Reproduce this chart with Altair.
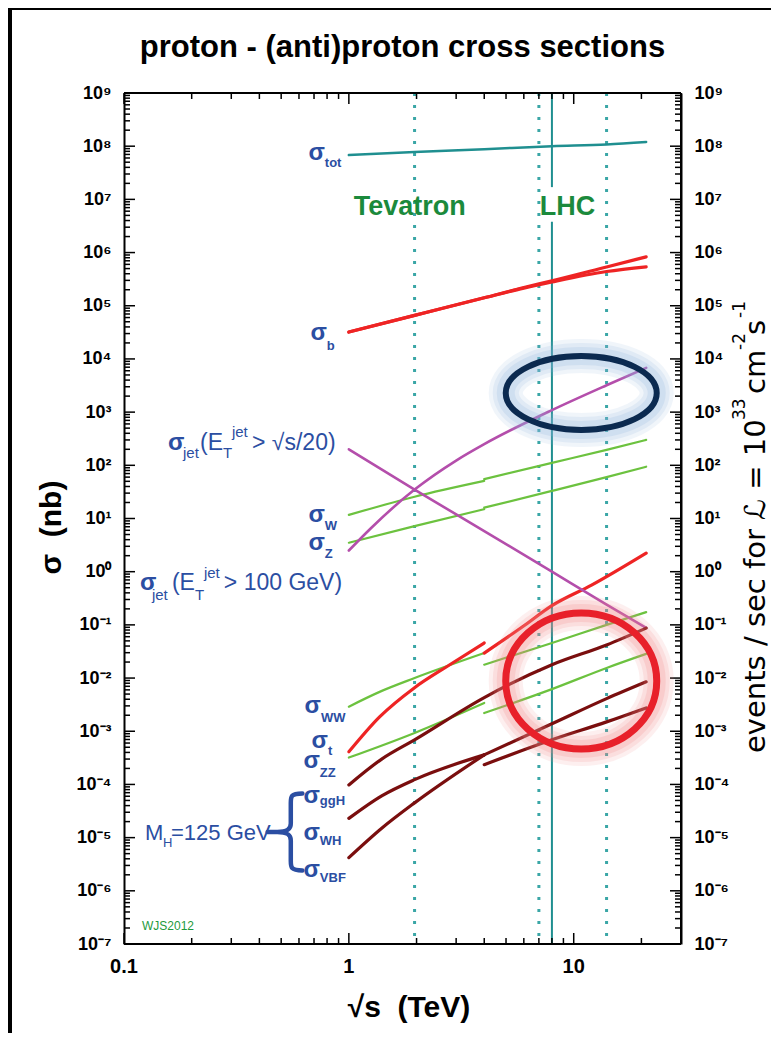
import altair as alt
import pandas as pd

W, H = 557, 851

# ---------------- data ----------------
tot_x = [1, 1.96, 4, 8, 14, 21]
tot_y = [6.8e7, 7.8e7, 8.8e7, 1.0e8, 1.08e8, 1.2e8]

b_x = [1, 1.96, 4, 6, 8, 14, 21]
b_upper_y = [3.2e4, 6.6e4, 1.41e5, 2.2e5, 2.94e5, 5.36e5, 8.3e5]
b_lower_y = [3.2e4, 6.6e4, 1.41e5, 2.15e5, 2.8e5, 4.4e5, 5.4e5]

jet20_x = [1, 1.96, 4, 8, 14, 21]
jet20_y = [200, 35, 5.8, 1.0, 0.24, 0.088]
jet100_x = [1, 1.25, 1.96, 3, 4, 8, 14, 21]
jet100_y = [2.5, 6.5, 35, 123, 250, 1090, 3200, 6800]

ppbar_x = [1, 1.96, 4]
pp_x = [4, 8, 14, 21]
W_ppbar_y = [11.7, 25.7, 51]
W_pp_y = [55, 111, 195, 300]
Z_ppbar_y = [3.5, 7.2, 15]
Z_pp_y = [16, 33, 60, 94]
WW_ppbar_x = [1, 1.37, 1.96, 4]
WW_ppbar_y = [2.9e-3, 5.5e-3, 0.010, 0.0295]
WW_pp_y = [0.0178, 0.0457, 0.10, 0.174]
ZZ_ppbar_y = [3.2e-4, 9.3e-4, 3.4e-3]
ZZ_pp_y = [2.2e-3, 6.2e-3, 0.0155, 0.0285]

t_ppbar_x = [1, 1.37, 1.96, 2.81, 4]
t_ppbar_y = [4.1e-4, 1.86e-3, 6.6e-3, 0.0178, 0.0457]
t_pp_x = [4, 5.9, 8, 12, 21]
t_pp_y = [0.0295, 0.091, 0.23, 0.56, 2.24]

ggH_x = [1, 1.4, 1.96, 4, 8, 14, 21]
ggH_y = [9.8e-5, 3.0e-4, 6.9e-4, 4.3e-3, 0.0178, 0.042, 0.087]
h_ppbar_x = [1, 1.4, 1.96, 4]
WH_ppbar_y = [2.3e-5, 6.1e-5, 1.23e-4, 3.6e-4]
WH_pp_y = [2.35e-4, 6.9e-4, 1.5e-3, 2.75e-3]
VBF_ppbar_y = [4.2e-6, 1.5e-5, 4.5e-5, 3.6e-4]
VBF_pp_y = [3.6e-4, 1.38e-3, 4.1e-3, 8.5e-3]

collider_dotted_x = [1.96, 7, 14]
lhc_x = [8, 8]
lhc_top = [1e9, 3.8e6]
lhc_bottom = [1.7e7, 1e-7]

# axis ticks and tick labels
x_major_ticks = [0.1, 1, 10]
x_tick_labels = ["0.1", "1", "10"]
x_minor_ticks = [0.2, 0.3, 0.4, 0.5, 0.6, 0.7, 0.8, 0.9, 2, 3, 4, 5, 6, 7, 8, 9, 20]
y_major_ticks = [10.0 ** e for e in range(-7, 10)]
y_minor_ticks = [k * 10.0 ** e for e in range(-7, 9) for k in range(2, 10)]

# labels: (text, x in TeV, y in nb)
sigma_names = ["tot", "b", "W", "Z", "WW", "t", "ZZ", "ggH", "WH", "VBF"]
sigma_x = [0.782, 0.798, 0.782, 0.782, 0.751, 0.807, 0.743, 0.743, 0.743, 0.743]
sigma_y = [5.5e7, 2.27e4, 8.61, 2.56, 2.21e-3, 4.85e-4, 2.04e-4, 4.48e-5, 9.04e-6, 1.82e-6]
sub_y = [4.06e7, 1.47e4, 6.08, 1.81, 1.49e-3, 3.58e-4, 1.38e-4, 4.11e-5, 7.28e-6, 1.47e-6]

jet_sigma = [("σ", 0.1569, 194), ("σ", 0.1178, 0.453)]
jet_big = [("(E", 0.2177, 194), ("> √s/20)", 0.371, 194),
           ("(E", 0.1634, 0.453), ("> 100 GeV)", 0.278, 0.453)]
jet_small = [("jet", 0.1829, 137), ("T", 0.2754, 137), ("jet", 0.302, 341),
             ("jet", 0.1331, 0.294), ("T", 0.2067, 0.294), ("jet", 0.2267, 0.762)]
mh_big = [("M", 0.124, 9.04e-6), ("=125 GeV", 0.1618, 9.04e-6)]
mh_small = [("H", 0.149, 6.67e-6)]
brace_pos = (0.541, 1.28e-5)
collider_names = [("Tevatron", 1.052, 5.08e6), ("LHC", 7.06, 5.08e6)]
credit = ("WJS2012", 0.1202, 1.84e-7)
ellipse_blue = (10.8, 2290)
ellipse_red = (10.8, 8.8e-3)

NBSP = "\u00a0"
TITLE = "proton - (anti)proton cross sections"
X_TITLE = "√s" + NBSP * 2 + "(TeV)"
Y_TITLE = "σ" + NBSP * 2 + "(nb)"

# ---------------- styling ----------------
FONT = "Liberation Sans"
BLUE = "#2b4ea2"
GREEN_TXT = "#1b8a3c"
TEAL = "#1f8f90"
DOT = "#3aa6a6"
RED = "#ee2424"
PURPLE = "#b44eab"
LGREEN = "#6cc23f"
DRED = "#7a0e0e"

xs = alt.Scale(type="log", domain=[0.1, 30], nice=False)
ys = alt.Scale(type="log", domain=[1e-7, 1e9], nice=False)

sups = ["⁻⁷", "⁻⁶", "⁻⁵", "⁻⁴", "⁻³", "⁻²", "⁻¹", "⁰", "¹", "²", "³", "⁴", "⁵", "⁶", "⁷", "⁸", "⁹"]
label_expr = "'10' + [" + ",".join("'%s'" % s for s in sups) + "][round(log(datum.value)/LN10)+7]"


def X(field="x", axis=None):
    return alt.X(field, type="quantitative", scale=xs, axis=axis)


def Y(field="y", axis=None):
    return alt.Y(field, type="quantitative", scale=ys, axis=axis)


def seg(name, xv, yv):
    return pd.DataFrame({"series": name, "x": xv, "y": yv})


def y_axis(orient, title):
    kw = dict(orient=orient, values=y_major_ticks, labelExpr=label_expr, labelFont=FONT,
              labelFontWeight="bold", labelFontSize=18, labelColor="black", labelPadding=13,
              labelFlush=False, labelOverlap=False, ticks=False, domain=True,
              domainColor="black", domainWidth=2, grid=False, zindex=1)
    if title:
        kw.update(title=title, titleFont=FONT, titleFontSize=30, titleFontWeight="bold",
                  titleColor="black", titleX=-64, titleY=434, titleBaseline="alphabetic",
                  titleAngle=270, titleAlign="center")
    else:
        kw.update(title=None)
    return alt.Axis(**kw)


one = pd.DataFrame({"a": [0]})
layers = []

# black border strips of the original screenshot (top and left)
layers.append(alt.Chart(one).mark_rect(color="black").encode(
    x=alt.value(-116), x2=alt.value(-112), y=alt.value(-85), y2=alt.value(H + 89)))
layers.append(alt.Chart(one).mark_rect(color="black").encode(
    x=alt.value(-116), x2=alt.value(W + 90), y=alt.value(-85), y2=alt.value(-83)))

# collider energy lines
layers.append(alt.Chart(pd.DataFrame({"x": collider_dotted_x})).mark_rule(
    color=DOT, strokeWidth=3, strokeDash=[3, 9]).encode(x=X()))
layers.append(alt.Chart(pd.DataFrame({"x": lhc_x, "y": lhc_top, "y2": lhc_bottom})).mark_rule(
    color=TEAL, strokeWidth=2).encode(x=X(), y=Y(), y2="y2:Q"))


def line_layer(df, color, width, ya=None):
    return alt.Chart(df).mark_line(color=color, strokeWidth=width, interpolate="monotone",
                                   strokeCap="round").encode(
        x=X(), y=Y(axis=ya), detail="series:N")


tot_df = seg("tot", tot_x, tot_y)
red_df = pd.concat([seg("b1", b_x, b_upper_y), seg("b2", b_x, b_lower_y),
                    seg("t1", t_ppbar_x, t_ppbar_y), seg("t2", t_pp_x, t_pp_y)])
jet_df = pd.concat([seg("j20", jet20_x, jet20_y), seg("j100", jet100_x, jet100_y)])
green_df = pd.concat([seg("W1", ppbar_x, W_ppbar_y), seg("W2", pp_x, W_pp_y),
                      seg("Z1", ppbar_x, Z_ppbar_y), seg("Z2", pp_x, Z_pp_y),
                      seg("WW1", WW_ppbar_x, WW_ppbar_y), seg("WW2", pp_x, WW_pp_y),
                      seg("ZZ1", ppbar_x, ZZ_ppbar_y), seg("ZZ2", pp_x, ZZ_pp_y)])
higgs_df = pd.concat([seg("ggH", ggH_x, ggH_y),
                      seg("WH1", h_ppbar_x, WH_ppbar_y), seg("WH2", pp_x, WH_pp_y),
                      seg("VBF1", h_ppbar_x, VBF_ppbar_y), seg("VBF2", pp_x, VBF_pp_y)])

layers.append(line_layer(tot_df, TEAL, 2.5, ya=y_axis("left", Y_TITLE)))
layers.append(line_layer(green_df, LGREEN, 2.2, ya=y_axis("right", None)))
layers.append(line_layer(red_df, RED, 3.2))
layers.append(line_layer(jet_df, PURPLE, 2.6))
layers.append(line_layer(higgs_df, DRED, 3.2))

# inward ticks on all four sides
xmaj = pd.DataFrame({"x": x_major_ticks, "txt": x_tick_labels})
xmin = pd.DataFrame({"x": x_minor_ticks})
ymaj = pd.DataFrame({"y": y_major_ticks})
ymin = pd.DataFrame({"y": y_minor_ticks})
for df, ln in ((xmaj, 11), (xmin, 6)):
    layers.append(alt.Chart(df).mark_rule(color="black", strokeWidth=1.5).encode(
        x=X(), y=alt.value(H), y2=alt.value(H - ln)))
    layers.append(alt.Chart(df).mark_rule(color="black", strokeWidth=1.5).encode(
        x=X(), y=alt.value(0), y2=alt.value(ln)))
for df, ln in ((ymaj, 11), (ymin, 6)):
    layers.append(alt.Chart(df).mark_rule(color="black", strokeWidth=1.5).encode(
        y=Y(), x=alt.value(0), x2=alt.value(ln)))
    layers.append(alt.Chart(df).mark_rule(color="black", strokeWidth=1.5).encode(
        y=Y(), x=alt.value(W), x2=alt.value(W - ln)))
# frame
layers.append(alt.Chart(one).mark_rule(color="black", strokeWidth=2).encode(
    x=alt.value(0), x2=alt.value(W), y=alt.value(0)))
layers.append(alt.Chart(one).mark_rule(color="black", strokeWidth=2).encode(
    x=alt.value(W), y=alt.value(0), y2=alt.value(H)))
layers.append(alt.Chart(one).mark_rule(color="black", strokeWidth=2).encode(
    x=alt.value(0), x2=alt.value(W), y=alt.value(H)))

# x tick labels, x title, chart title
layers.append(alt.Chart(xmaj).mark_text(align="center", baseline="alphabetic", font=FONT,
                                        fontSize=20, fontWeight="bold", color="black").encode(
    x=X(), y=alt.value(H + 29), text="txt:N"))
layers.append(alt.Chart(one).mark_text(text=X_TITLE, align="center", baseline="alphabetic",
                                       font=FONT, fontSize=30, fontWeight="bold",
                                       color="black").encode(
    x=alt.value(285), y=alt.value(H + 73)))
layers.append(alt.Chart(one).mark_text(text=TITLE, align="center", baseline="alphabetic",
                                       font=FONT, fontSize=31, fontWeight="bold",
                                       color="black").encode(
    x=alt.value(W / 2), y=alt.value(-36)))


def text_layer(rows, size, weight="normal", align="left", color=BLUE, font=FONT):
    df = pd.DataFrame(rows, columns=["txt", "x", "y"])
    return alt.Chart(df).mark_text(align=align, baseline="alphabetic", font=font, fontSize=size,
                                   fontWeight=weight, color=color).encode(
        x=X(), y=Y(), text="txt:N")


sig_rows = [("σ", x, y) for x, y in zip(sigma_x, sigma_y)]
sub_rows = [(n, x, y) for n, x, y in zip(sigma_names, sigma_x, sub_y)]
layers.append(text_layer(sig_rows, 24, "bold", "right"))
layers.append(text_layer(sub_rows, 13, "bold", "left"))
layers.append(text_layer(jet_sigma, 24, "bold"))
layers.append(text_layer(jet_big, 23))
layers.append(text_layer(jet_small, 15))
layers.append(text_layer(mh_big, 22))
layers.append(text_layer(mh_small, 13))
layers.append(text_layer(collider_names, 27, "bold", color=GREEN_TXT))
layers.append(text_layer([credit], 12, color="#1e9a3c"))

# brace
brace_path = ("M 0.35 -1 C 0.05 -1 0.05 -0.92 0.05 -0.75 L 0.05 -0.22 C 0.05 -0.06 -0.05 0 -0.3 0 "
              "C -0.05 0 0.05 0.06 0.05 0.22 L 0.05 0.75 C 0.05 0.92 0.05 1 0.35 1 M -0.3 0 L -0.55 0")
layers.append(alt.Chart(pd.DataFrame({"x": [brace_pos[0]], "y": [brace_pos[1]]})).mark_point(
    shape=brace_path, size=5929, filled=False, color=BLUE, strokeWidth=4.5, opacity=1,
    strokeCap="round").encode(x=X(), y=Y()))


def ellipse_path(b):
    k = 0.5523
    return ("M -1 0 C -1 %.4f %.4f %.4f 0 %.4f C %.4f %.4f 1 %.4f 1 0 "
            "C 1 %.4f %.4f %.4f 0 %.4f C %.4f %.4f -1 %.4f -1 0 Z" % (
                -k * b, -k, -b, -b, k, -b, -k * b, k * b, k, b, b, -k, b, k * b))


for (cx, cy), b, main, glow, sw in ((ellipse_blue, 0.49, "#0b2a50", "#8fb4de", 6),
                                    (ellipse_red, 0.90, "#e8202a", "#f28a8a", 7)):
    dfp = pd.DataFrame({"x": [cx], "y": [cy]})
    for gw, go in ((34, 0.13), (26, 0.16), (18, 0.2)):
        layers.append(alt.Chart(dfp).mark_point(
            shape=ellipse_path(b), size=22801, filled=False, color=glow, strokeWidth=gw,
            opacity=go).encode(x=X(), y=Y()))
    layers.append(alt.Chart(dfp).mark_point(
        shape=ellipse_path(b), size=22801, filled=False, color=main, strokeWidth=sw,
        opacity=1).encode(x=X(), y=Y()))

# right-hand axis title (rotated, with superscripts)
rt = [("events / sec for ℒ = 10", 641, 660, 29), ("33", 621, 327, 17), ("cm", 641, 301, 29),
      ("-2", 621, 257, 17), ("s", 641, 242, 29), ("-1", 621, 225, 17)]
for txt, px, py, fs in rt:
    layers.append(alt.Chart(one).mark_text(text=txt, angle=270, align="left",
                                           baseline="alphabetic", font="DejaVu Sans",
                                           fontSize=fs, color="black").encode(
        x=alt.value(px), y=alt.value(py)))

chart = alt.layer(*layers).resolve_axis(y="independent").properties(
    width=W, height=H,
    autosize=alt.AutoSizeParams(type="none"),
    padding={"left": 116, "top": 85, "right": 90, "bottom": 89},
    background="white",
).configure_view(stroke=None)

chart.save("out.html", embed_options={"renderer": "svg", "actions": False})
